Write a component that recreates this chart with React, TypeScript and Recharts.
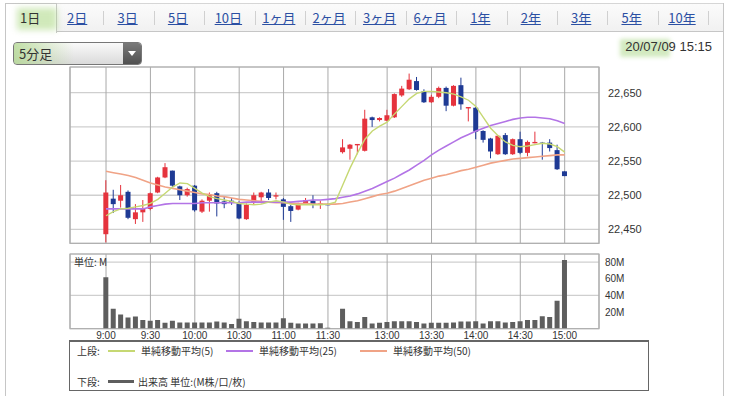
import React from 'react';
import { ComposedChart, Bar, Line, XAxis, YAxis, CartesianGrid, ReferenceArea } from 'recharts';

const times = [
  '9:00','9:05','9:10','9:15','9:20','9:25','9:30','9:35','9:40','9:45','9:50','9:55',
  '10:00','10:05','10:10','10:15','10:20','10:25','10:30','10:35','10:40','10:45','10:50','10:55',
  '11:00','11:05','11:10','11:15','11:20','11:25','11:30','',
  '12:30','12:35','12:40','12:45','12:50','12:55',
  '13:00','13:05','13:10','13:15','13:20','13:25','13:30','13:35','13:40','13:45','13:50','13:55',
  '14:00','14:05','14:10','14:15','14:20','14:25','14:30','14:35','14:40','14:45','14:50','14:55','15:00',
];

const opens = [22443,22495,22492,22505,22465,22475,22480,22504,22526,22536,22513,22500,22514,22476,22492,22503,22491,22492,22488,22465,22489,22497,22504,22498,22494,22484,22479,22487,22492,22486,22487,null,
  22563,22568,22573,22565,22614,22610,22609,22614,22646,22655,22667,22652,22636,22644,22657,22631,22661,22627,22628,22594,22583,22560,22588,22560,22582,22562,22576,22577,22577,22566,22535];
const highs = [22522,22508,22515,22507,22487,22493,22504,22527,22547,22536,22514,22511,22515,22494,22504,22505,22498,22496,22491,22488,22504,22505,22509,22504,22496,22486,22489,22496,22500,22492,22488,null,
  22582,22575,22575,22625,22615,22614,22625,22649,22660,22678,22673,22655,22647,22659,22659,22661,22672,22629,22629,22595,22584,22588,22591,22583,22593,22580,22593,22578,22582,22574,22535];
const lows = [22431,22474,22482,22465,22458,22461,22478,22503,22525,22512,22493,22498,22476,22474,22476,22469,22481,22486,22465,22464,22486,22488,22493,22494,22464,22461,22478,22486,22481,22480,22486,null,
  22561,22552,22560,22564,22600,22608,22608,22613,22644,22654,22653,22635,22635,22642,22623,22630,22625,22608,22582,22577,22554,22559,22559,22559,22560,22557,22576,22552,22564,22537,22528];
const closes = [22504,22487,22500,22467,22475,22480,22503,22526,22541,22514,22500,22509,22478,22492,22501,22488,22487,22489,22466,22486,22500,22504,22496,22500,22483,22477,22487,22493,22486,22488,22487,null,
  22570,22574,22575,22612,22610,22613,22617,22648,22656,22669,22654,22636,22644,22657,22631,22660,22633,22629,22593,22581,22564,22587,22560,22582,22562,22578,22578,22577,22569,22538,22528];

const ma5 = [22470,22476,22480,22481,22483,22485,22488,22494,22503,22512,22518,22517,22510,22503,22498,22495,22493,22491,22488,22487,22486,22487,22490,22492,22490,22487,22486,22486,22486,22486,22487,22490,
  22515,22540,22562,22582,22594,22601,22607,22619,22630,22641,22649,22652,22652,22651,22650,22648,22644,22639,22630,22614,22598,22587,22578,22573,22571,22572,22574,22576,22575,22571,22563];
const ma25 = [22480,22480,22480,22480,22480,22480,22483,22485,22487,22488,22488,22488,22488,22489,22489,22489,22489,22489,22489,22490,22490,22490,22490,22490,22490,22490,22491,22492,22493,22493,22494,22495,
  22497,22499,22502,22506,22510,22515,22520,22525,22531,22537,22544,22551,22559,22566,22572,22578,22584,22589,22594,22598,22602,22605,22608,22611,22613,22614,22614,22613,22612,22609,22605];
const ma50 = [22535,22533,22531,22529,22526,22522,22518,22515,22512,22510,22508,22506,22504,22502,22501,22499,22498,22496,22494,22493,22492,22491,22490,22489,22489,22488,22488,22488,22487,22487,22487,22487,
  22488,22490,22492,22495,22498,22501,22503,22506,22510,22514,22518,22522,22525,22528,22530,22533,22536,22538,22541,22544,22547,22549,22551,22553,22554,22555,22556,22557,22558,22559,22559];

const volumes = [62,24,17,13.5,14.5,10.5,9.5,10.5,7,9.5,7.5,7.5,7.5,7.5,7.5,8.5,7.5,5.5,12,9,8,7.5,7.5,7.5,12.5,7,6,6,6,6.5,1,null,
  24,9,8,14,6,7,8,9,9,9,8,6,7,7,7,7.5,8.5,8.5,9,6,9,9,7.5,8,9,10.5,10.5,15,14,33.6,82.6];

const tickIdx = [0,6,12,18,24,30,38,44,50,56,62];
const priceTicks = [22450,22500,22550,22600,22650];
const volTicks = [20,40,60,80];

const tabs = ['1日','2日','3日','5日','10日','1ヶ月','2ヶ月','3ヶ月','6ヶ月','1年','2年','3年','5年','10年'];

const X_DOMAIN: [number, number] = [-4.87, 66.64];
const P_DOMAIN: [number, number] = [22429.7, 22687.6];
const V_DOMAIN: [number, number] = [0, 89.9];

const UP = '#e5333d';
const DOWN = '#1e3a94';
const NUM_FONT = '"Liberation Sans", Arial, sans-serif';
const JP_FONT = '"Noto Sans CJK JP", "Liberation Sans", sans-serif';

const Candle = (props: any) => {
  const { x, y, width, height, payload } = props;
  if (!payload || payload.o == null || x == null || y == null) return null;
  const { o, h, l, c } = payload;
  const top = Math.min(y, y + height);
  const span = Math.abs(height);
  const k = h - l > 0 ? span / (h - l) : 0;
  const bodyTop = top + (h - Math.max(o, c)) * k;
  const bodyBot = top + (h - Math.min(o, c)) * k;
  const color = c > o ? UP : DOWN;
  const cx = x + width / 2;
  return (
    <g>
      <line x1={cx} x2={cx} y1={top} y2={top + Math.max(span, 1)} stroke={color} strokeWidth={1} />
      <rect x={x} y={bodyTop} width={width} height={Math.max(1.2, bodyBot - bodyTop)} fill={color} />
    </g>
  );
};

export default function App() {
  const rows = times.map((t, i) => ({
    i,
    t,
    o: opens[i],
    h: highs[i],
    l: lows[i],
    c: closes[i],
    range: opens[i] == null ? null : [lows[i], highs[i]],
    ma5: ma5[i],
    ma25: ma25[i],
    ma50: ma50[i],
    vol: volumes[i],
  }));

  const cellW = 50.4;

  return (
    <div style={{ position: 'absolute', left: 0, top: 0, width: 730, height: 396, background: '#fff', overflow: 'hidden', fontFamily: JP_FONT }}>
      {/* tab strip */}
      <div style={{ position: 'absolute', left: 57, top: 3, width: 666, height: 29, background: 'linear-gradient(#fbfbfb,#f1f1f1)', borderTop: '1px solid #d6d6d6', borderBottom: '1px solid #c6c6c6', boxSizing: 'border-box' }} />
      <div style={{ position: 'absolute', left: 5, top: 3, width: 52, height: 30, background: '#fff', border: '1px solid #c6c6c6', borderBottom: 'none', boxSizing: 'border-box' }} />
      <div style={{ position: 'absolute', left: 5, top: 32, width: 1, height: 364, background: '#c6c6c6' }} />
      <div style={{ position: 'absolute', left: 723, top: 3, width: 1, height: 393, background: '#c6c6c6' }} />

      {/* active tab */}
      <div style={{ position: 'absolute', left: 17, top: 8, width: 40, height: 22, background: 'rgba(170,215,130,0.55)', filter: 'blur(3px)' }} />
      <div style={{ position: 'absolute', left: 20, top: 9, fontSize: 13, lineHeight: '18px', color: '#333' }}>{tabs[0]}</div>
      {tabs.slice(1).map((tb, k) => (
        <React.Fragment key={tb}>
          <div style={{ position: 'absolute', left: 52 + cellW * k, top: 9, width: cellW, textAlign: 'center', fontSize: 13, lineHeight: '18px', color: '#2b4fa3', textDecoration: 'underline' }}>{tb}</div>
          <div style={{ position: 'absolute', left: 52 + cellW * (k + 1) + 1, top: 11, width: 1, height: 14, background: '#d0d0d0' }} />
        </React.Fragment>
      ))}

      {/* dropdown */}
      <div style={{ position: 'absolute', left: 13, top: 42, width: 129, height: 23, borderRadius: 4, border: '1px solid #777', background: 'linear-gradient(#fafafa,#dadada)', boxSizing: 'border-box', overflow: 'hidden' }}>
        <div style={{ position: 'absolute', left: 0, top: 0, width: 60, height: '100%', background: 'linear-gradient(90deg, rgba(175,215,140,0.75), rgba(175,215,140,0.0))' }} />
        <div style={{ position: 'absolute', left: 5, top: 2, fontSize: 13, lineHeight: '18px', color: '#333' }}>5分足</div>
        <div style={{ position: 'absolute', right: 0, top: 0, width: 18, height: '100%', background: 'linear-gradient(#7a7a7a,#505050)' }}>
          <div style={{ position: 'absolute', left: 5, top: 8, width: 0, height: 0, borderLeft: '4px solid transparent', borderRight: '4px solid transparent', borderTop: '5px solid #fff' }} />
        </div>
      </div>

      {/* date */}
      <div style={{ position: 'absolute', left: 620, top: 39, width: 50, height: 18, background: 'rgba(180,220,150,0.6)', filter: 'blur(2px)' }} />
      <div style={{ position: 'absolute', right: 18, top: 38, fontSize: 13, lineHeight: '18px', color: '#333', fontFamily: NUM_FONT }}>20/07/09 15:15</div>

      {/* price chart */}
      <div style={{ position: 'absolute', left: 0, top: 60 }}>
        <ComposedChart width={730} height={190} data={rows} margin={{ top: 7, right: 71, bottom: 6.7, left: 70 }}>
          <CartesianGrid vertical={false} stroke="#cfcfcf" strokeWidth={1.3} />
          <CartesianGrid horizontal={false} stroke="#a9a9a9" />
          <XAxis type="number" dataKey="i" domain={X_DOMAIN} ticks={tickIdx} hide allowDataOverflow />
          <YAxis
            orientation="right"
            type="number"
            domain={P_DOMAIN}
            ticks={priceTicks}
            allowDataOverflow
            axisLine={false}
            tickLine={false}
            width={60}
            tickSize={6}
            tickMargin={3}
            tickFormatter={(v: number) => v.toLocaleString('en-US')}
            tick={{ fontSize: 11, fill: '#333', fontFamily: NUM_FONT }}
          />
          <ReferenceArea x1={X_DOMAIN[0]} x2={X_DOMAIN[1]} y1={P_DOMAIN[0]} y2={P_DOMAIN[1]} fill="none" stroke="#b0b0b0" strokeWidth={1.2} ifOverflow="visible" />
          <Bar dataKey="range" barSize={5} shape={(p: any) => <Candle {...p} />} isAnimationActive={false} />
          <Line type="linear" dataKey="ma50" stroke="#f0a386" strokeWidth={1.6} dot={false} isAnimationActive={false} />
          <Line type="linear" dataKey="ma25" stroke="#b374e6" strokeWidth={1.6} dot={false} isAnimationActive={false} />
          <Line type="linear" dataKey="ma5" stroke="#c6d873" strokeWidth={1.4} dot={false} isAnimationActive={false} />
        </ComposedChart>
      </div>

      {/* volume chart */}
      <div style={{ position: 'absolute', left: 0, top: 250 }}>
        <ComposedChart width={730} height={100} data={rows} margin={{ top: 4, right: 71, bottom: 3.4, left: 70 }}>
          <CartesianGrid vertical={false} stroke="#cfcfcf" strokeWidth={1.3} />
          <CartesianGrid horizontal={false} stroke="#a9a9a9" />
          <XAxis
            type="number"
            dataKey="i"
            domain={X_DOMAIN}
            ticks={tickIdx}
            allowDataOverflow
            interval={0}
            axisLine={false}
            tickLine={false}
            height={18}
            tickSize={1}
            tickMargin={2}
            tickFormatter={(v: number) => times[v]}
            tick={{ fontSize: 10, fill: '#333', fontFamily: NUM_FONT }}
          />
          <YAxis
            orientation="right"
            type="number"
            domain={V_DOMAIN}
            ticks={volTicks}
            allowDataOverflow
            axisLine={false}
            tickLine={false}
            width={60}
            tickSize={6}
            tickMargin={0}
            tickFormatter={(v: number) => `${v}M`}
            tick={{ fontSize: 10, fill: '#333', fontFamily: NUM_FONT }}
          />
          <ReferenceArea x1={X_DOMAIN[0]} x2={X_DOMAIN[1]} y1={V_DOMAIN[0]} y2={V_DOMAIN[1]} fill="none" stroke="#b0b0b0" strokeWidth={1.2} ifOverflow="visible" />
          <Bar dataKey="vol" fill="#5e5e5e" barSize={5} isAnimationActive={false} />
        </ComposedChart>
      </div>
      <div style={{ position: 'absolute', left: 74, top: 255, fontSize: 10, lineHeight: '13px', color: '#333', background: 'transparent' }}>単位: M</div>

      {/* legend box */}
      <div style={{ position: 'absolute', left: 69, top: 340, width: 580, height: 51, border: '1px solid #666', borderTopWidth: 2, boxSizing: 'border-box', fontSize: 10, color: '#333' }}>
        <div style={{ position: 'absolute', left: 7, top: 2, lineHeight: '14px' }}>上段:</div>
        <div style={{ position: 'absolute', left: 38, top: 8, width: 27, height: 2, background: '#c6d873' }} />
        <div style={{ position: 'absolute', left: 71, top: 2, lineHeight: '14px' }}>単純移動平均(5)</div>
        <div style={{ position: 'absolute', left: 156, top: 8, width: 27, height: 2, background: '#b374e6' }} />
        <div style={{ position: 'absolute', left: 189, top: 2, lineHeight: '14px' }}>単純移動平均(25)</div>
        <div style={{ position: 'absolute', left: 290, top: 8, width: 27, height: 2, background: '#f0a386' }} />
        <div style={{ position: 'absolute', left: 323, top: 2, lineHeight: '14px' }}>単純移動平均(50)</div>
        <div style={{ position: 'absolute', left: 7, top: 33, lineHeight: '14px' }}>下段:</div>
        <div style={{ position: 'absolute', left: 38, top: 38, width: 26, height: 3, background: '#5e5e5e' }} />
        <div style={{ position: 'absolute', left: 68, top: 33, lineHeight: '14px' }}>出来高 単位:(M株/口/枚)</div>
      </div>
    </div>
  );
}
